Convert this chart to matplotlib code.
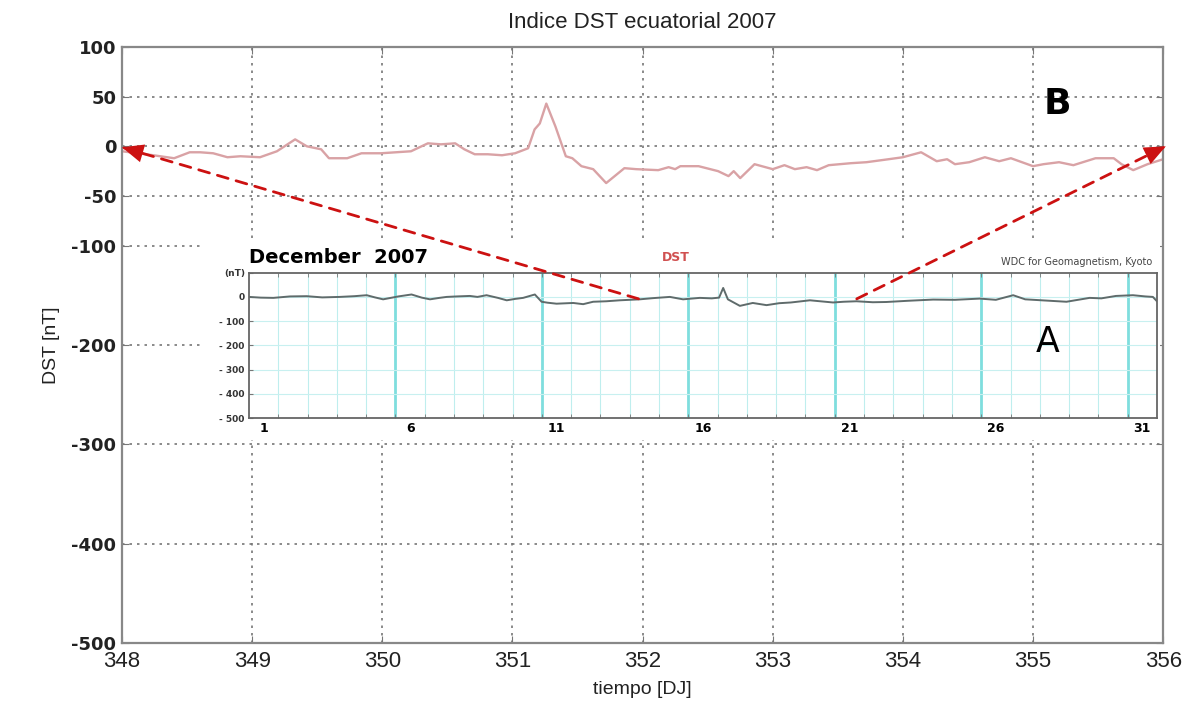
import matplotlib
matplotlib.use('Agg')
import matplotlib.pyplot as plt
from matplotlib import font_manager
from matplotlib.patches import Rectangle

# main panel (B): equatorial Dst, day of year 348-356
doy = [348.0, 348.24, 348.4, 348.52, 348.6, 348.7, 348.81, 348.91, 349.06, 349.19,
       349.33, 349.42, 349.53, 349.59, 349.73, 349.84, 349.99, 350.22, 350.35, 350.45,
       350.56, 350.63, 350.71, 350.81, 350.92, 351.02, 351.12, 351.17, 351.21, 351.26,
       351.33, 351.41, 351.46, 351.53, 351.62, 351.72, 351.86, 351.95, 352.12, 352.2,
       352.25, 352.29, 352.43, 352.58, 352.66, 352.7, 352.75, 352.86, 353.0, 353.09,
       353.17, 353.26, 353.34, 353.43, 353.6, 353.72, 353.89, 354.0, 354.14, 354.26,
       354.34, 354.4, 354.51, 354.63, 354.74, 354.83, 355.0, 355.08, 355.2, 355.31,
       355.48, 355.62, 355.68, 355.77, 355.88, 356.0]
dst = [-5, -9, -12, -6, -6, -7, -11, -10, -11, -5,
       7, 0, -3, -12, -12, -7, -7, -5, 3, 2,
       3, -3, -8, -8, -9, -7, -2, 17, 23, 43,
       20, -10, -12, -20, -23, -37, -22, -23, -24, -21,
       -23, -20, -20, -25, -30, -25, -32, -18, -23, -19,
       -23, -21, -24, -19, -17, -16, -13, -11, -6, -15,
       -13, -18, -16, -11, -15, -12, -20, -18, -16, -19,
       -12, -12, -18, -24, -18, -13]

# inset panel (A): Kyoto quicklook, December 2007
inset_day = [1.0, 1.4, 1.83, 2.4, 2.97, 3.5, 4.1, 4.6, 5.02, 5.3, 5.58, 6.1, 6.55, 6.9,
             7.18, 7.5, 7.75, 8.1, 8.54, 8.8, 9.11, 9.5, 9.8, 10.1, 10.36, 10.76, 10.99,
             11.2, 11.5, 12.07, 12.41, 12.75, 13.2, 13.66, 14.0, 14.34, 14.8, 15.37, 15.82,
             16.39, 16.8, 17.05, 17.19, 17.35, 17.76, 18.2, 18.67, 19.1, 19.5, 20.15, 20.5,
             20.94, 21.3, 21.74, 22.3, 22.76, 23.5, 24.36, 25.1, 25.95, 26.5, 27.09, 27.5,
             28.2, 28.91, 29.7, 30.1, 30.6, 31.18, 31.6, 31.86, 32.0]
inset_dst = [0, -3, -4, 2, 3, -2, 0, 3, 7, -2, -10, 2, 10, -3,
             -10, -4, 0, 2, 4, 0, 7, -4, -14, -8, -4, 10, -20,
             -24, -28, -25, -30, -20, -18, -14, -12, -10, -5, 0, -10,
             -4, -6, -3, 37, -10, -37, -25, -34, -26, -23, -14, -18,
             -23, -20, -18, -22, -21, -16, -11, -12, -7, -12, 7, -10,
             -15, -20, -4, -6, 4, 7, 2, 0, -18]

yticks_main = [100, 50, 0, -50, -100, -200, -300, -400, -500]
xticks_main = [348, 349, 350, 351, 352, 353, 354, 355, 356]
inset_major_days = [6, 11, 16, 21, 26, 31]
inset_label_days = [1, 6, 11, 16, 21, 26, 31]
inset_levels = [0, -100, -200, -300, -400]
inset_yticks = [100, 0, -100, -200, -300, -400, -500]
inset_yticklabels = ['(nT)', '0', '- 100', '- 200', '- 300', '- 400', '- 500']

# dashed arrows: inset point (inset data) -> main point (main data)
arrow_tails = [(14.3, -8), (21.75, -8)]
arrow_tips = [(348.0, -1), (356.02, 0)]

names = {f.name for f in font_manager.fontManager.ttflist}
narrow = 'Liberation Sans Narrow' if 'Liberation Sans Narrow' in names else 'Liberation Sans'

fig = plt.figure(figsize=(11.93, 7.01), dpi=100)
ax = fig.add_axes([0.1023, 0.0827, 0.8727, 0.8503])

ax.plot(doy, dst, color='#d9a2a5', lw=1.7)
ax.set_xlim(348, 356)
ax.set_ylim(-500, 100)
ax.set_xticks(xticks_main)
ax.set_yticks(yticks_main)
ax.set_xticklabels([str(t) for t in xticks_main], fontsize=16, family=narrow, color='#222222')
ax.set_yticklabels([str(t) for t in yticks_main], fontsize=13, fontweight='bold', color='#222222')
ax.tick_params(direction='in', length=5, top=True, right=True, color='#777777', pad=4)
ax.tick_params(axis='x', pad=6)
ax.grid(True, linestyle=(0, (1.5, 3)), color='#777777', lw=1.2)
for s in ax.spines.values():
    s.set_color('#888888')
    s.set_linewidth(1.6)
ax.set_title('Indice DST ecuatorial 2007', fontsize=16, family=narrow, pad=14, color='#222222')
ax.set_xlabel('tiempo [DJ]', fontsize=14, family=narrow, color='#222222', labelpad=6)
ax.set_ylabel('DST [nT]', fontsize=14, family=narrow, color='#222222', labelpad=8)
ax.text(0.885, 0.905, 'B', transform=ax.transAxes, fontsize=26, fontweight='bold',
        ha='left', va='center')

# white box behind the pasted Kyoto plot
fig.patches.append(Rectangle((0.1676, 0.3723), 0.8047, 0.2825, transform=fig.transFigure,
                             facecolor='white', edgecolor='none', zorder=1))

ax_in = fig.add_axes([0.2087, 0.4037, 0.7611, 0.2073])
ax_in.set_zorder(2)
ax_in.set_xlim(1, 32)
ax_in.set_ylim(-500, 100)
for d in range(2, 32):
    ax_in.axvline(d, color='#bfeeee', lw=0.8, zorder=0)
for d in inset_major_days:
    ax_in.axvline(d, color='#7fdede', lw=2.0, zorder=0)
for lv in inset_levels:
    ax_in.axhline(lv, color='#c8f0f0', lw=0.8, zorder=0)
ax_in.plot(inset_day, inset_dst, color='#5f6b6b', lw=1.4, zorder=2)
ax_in.set_xticks([d + 0.5 for d in inset_label_days])
ax_in.set_xticklabels([str(d) for d in inset_label_days], fontsize=9, fontweight='bold')
ax_in.set_xticks(range(2, 32), minor=True)
ax_in.set_yticks(inset_yticks)
ax_in.set_yticklabels(inset_yticklabels, fontsize=6.5, fontweight='bold', color='#333333')
ax_in.tick_params(axis='x', which='major', length=0, pad=3)
ax_in.tick_params(axis='x', which='minor', direction='in', length=3, top=True, color='#777777')
ax_in.tick_params(axis='y', direction='in', length=3, color='#777777', pad=3)
for s in ax_in.spines.values():
    s.set_color('#666666')
    s.set_linewidth(1.3)
ax_in.text(0.0, 1.04, 'December  2007', transform=ax_in.transAxes, fontsize=14,
           fontweight='bold', ha='left', va='bottom')
ax_in.text(0.47, 1.06, 'DST', transform=ax_in.transAxes, fontsize=9, fontweight='bold',
           color='#d05050', ha='center', va='bottom')
ax_in.text(0.995, 1.04, 'WDC for Geomagnetism, Kyoto', transform=ax_in.transAxes,
           fontsize=7, color='#444444', ha='right', va='bottom')
ax_in.text(0.88, 0.52, 'A', transform=ax_in.transAxes, fontsize=25, ha='center', va='center')

for tail, tip in zip(arrow_tails, arrow_tips):
    ax_in.annotate('', xy=tip, xycoords=ax.transData, xytext=tail, textcoords='data',
                   arrowprops=dict(arrowstyle='-', color='#cc1111', lw=2,
                                   linestyle=(0, (4, 3)), shrinkA=0, shrinkB=0),
                   annotation_clip=False, zorder=5)
    ax_in.annotate('', xy=tip, xycoords=ax.transData, xytext=tail, textcoords='data',
                   arrowprops=dict(arrowstyle='-|>,head_length=0.7,head_width=0.3',
                                   color='#cc1111', lw=0, mutation_scale=22,
                                   shrinkA=0, shrinkB=0),
                   annotation_clip=False, zorder=5)

fig.savefig('out.png', dpi=100)
